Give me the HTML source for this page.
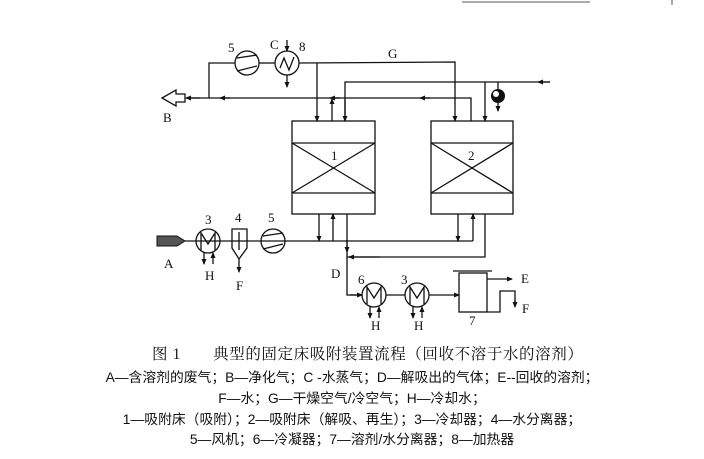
<!DOCTYPE html>
<html><head><meta charset="utf-8"><style>
body{margin:0;background:#fff;width:704px;height:459px;overflow:hidden}
svg{position:absolute;left:0;top:0}
text{font-family:"Liberation Serif","Noto Serif CJK SC",serif;fill:#111}
.c{font-family:"Liberation Sans","Noto Sans CJK SC",sans-serif;font-size:13.8px}
</style></head><body>
<svg width="704" height="459" viewBox="0 0 704 459">
<defs><marker id="a" markerWidth="6" markerHeight="6" refX="5" refY="3" orient="auto" markerUnits="userSpaceOnUse"><path d="M0,0.5 L6,3 L0,5.5z" fill="#111"/></marker></defs>
<line x1="462" y1="2" x2="590" y2="2" stroke="#555" stroke-width="1"/><line x1="672" y1="0" x2="672" y2="5" stroke="#555"/>
<g stroke="#111" stroke-width="1.3" fill="none">
<rect x="292" y="121" width="83" height="93"/><line x1="292" y1="143" x2="375" y2="143"/><line x1="292" y1="193" x2="375" y2="193"/><line x1="292" y1="143" x2="375" y2="193"/><line x1="375" y1="143" x2="292" y2="193"/>
<rect x="431" y="121" width="82" height="93"/><line x1="431" y1="143" x2="513" y2="143"/><line x1="431" y1="193" x2="513" y2="193"/><line x1="431" y1="143" x2="513" y2="193"/><line x1="513" y1="143" x2="431" y2="193"/>
<polyline points="209,98 209,63 235,63"/><circle cx="247" cy="63" r="12"/><path d="M237,58 L257,55 M237,71 L257,66"/>
<line x1="259" y1="63" x2="275" y2="63"/><circle cx="287" cy="63" r="12"/><path d="M280,68 L284,58 L289,70 L294,57"/>
<line x1="287" y1="40" x2="287" y2="51" marker-end="url(#a)"/><line x1="287" y1="75" x2="287" y2="87" marker-end="url(#a)"/>
<polyline points="299,63 455,62 455,121" marker-end="url(#a)"/>
<line x1="317" y1="63" x2="317" y2="121" marker-end="url(#a)"/>
<polyline points="471,121 471,98 190,98"/>
<line x1="340" y1="98" x2="330" y2="98" marker-end="url(#a)"/><line x1="430" y1="98" x2="420" y2="98" marker-end="url(#a)"/><line x1="230" y1="98" x2="220" y2="98" marker-end="url(#a)"/><line x1="200" y1="98" x2="186" y2="98" marker-end="url(#a)"/>
<line x1="332" y1="121" x2="332" y2="99" marker-end="url(#a)"/>
<path d="M185,94 L176,94 L176,90 L162,98 L176,106 L176,102 L185,102z"/>
<polyline points="345,121 345,82 550,82"/><line x1="345" y1="100" x2="345" y2="121" marker-end="url(#a)"/>
<line x1="485" y1="82" x2="485" y2="121" marker-end="url(#a)"/>
<line x1="550" y1="82" x2="538" y2="82" marker-end="url(#a)"/>
<line x1="498" y1="82" x2="498" y2="89"/><line x1="498" y1="103" x2="498" y2="111" marker-end="url(#a)"/>
<line x1="185" y1="241" x2="473" y2="241"/>
<line x1="319" y1="214" x2="319" y2="241" marker-end="url(#a)"/><line x1="333" y1="241" x2="333" y2="214" marker-end="url(#a)"/>
<polyline points="347,214 347,295 362,295" /><line x1="347" y1="240" x2="347" y2="252" marker-end="url(#a)"/><line x1="350" y1="295" x2="362" y2="295" marker-end="url(#a)"/>
<line x1="458" y1="214" x2="458" y2="241" marker-end="url(#a)"/><line x1="473" y1="241" x2="473" y2="214" marker-end="url(#a)"/>
<polyline points="485,214 485,257 347,257"/><line x1="380" y1="257" x2="349" y2="257" marker-end="url(#a)"/>
<circle cx="208" cy="241" r="12"/><path d="M201,250 L201,233 L208,244 L215,233 L215,250"/>
<line x1="204" y1="253" x2="204" y2="264" marker-end="url(#a)"/><line x1="213" y1="264" x2="213" y2="253" marker-end="url(#a)"/>
<path d="M232,229 L247,229 L247,248 L239,259 L232,248z"/><line x1="239" y1="232" x2="239" y2="250"/>
<line x1="239" y1="259" x2="239" y2="272" marker-end="url(#a)"/>
<circle cx="273" cy="241" r="12"/><path d="M263,236 L283,233 M263,249 L283,244"/>
<circle cx="374" cy="295" r="12"/><path d="M367,304 L367,287 L374,298 L381,287 L381,304"/>
<line x1="370" y1="307" x2="370" y2="318" marker-end="url(#a)"/><line x1="379" y1="318" x2="379" y2="307" marker-end="url(#a)"/>
<line x1="386" y1="295" x2="405" y2="295"/>
<circle cx="417" cy="295" r="12"/><path d="M410,304 L410,287 L417,298 L424,287 L424,304"/>
<line x1="413" y1="307" x2="413" y2="318" marker-end="url(#a)"/><line x1="422" y1="318" x2="422" y2="307" marker-end="url(#a)"/>
<line x1="429" y1="295" x2="459" y2="295" marker-end="url(#a)"/>
<rect x="459" y="273" width="28" height="39"/><line x1="453" y1="271" x2="492" y2="271"/>
<line x1="487" y1="279" x2="512" y2="279" marker-end="url(#a)"/>
<polyline points="487,312 500,312 500,291 515,291 515,306" /><line x1="515" y1="300" x2="515" y2="307" marker-end="url(#a)"/>
</g>
<path d="M157,236 L177,236 L185,241 L177,246 L157,246z" fill="#555" stroke="#111"/>
<circle cx="498" cy="96" r="7" fill="#111"/><circle cx="496" cy="94" r="3" fill="#fff"/>
<g font-size="13">
<text x="228" y="52">5</text><text x="270" y="49">C</text><text x="299" y="51">8</text><text x="388" y="58">G</text><text x="163" y="122">B</text>
<text x="331" y="160">1</text><text x="468" y="160">2</text>
<text x="205" y="224">3</text><text x="235" y="222">4</text><text x="268" y="222">5</text>
<text x="164" y="268">A</text><text x="205" y="280">H</text><text x="236" y="290">F</text>
<text x="331" y="278">D</text><text x="358" y="284">6</text><text x="401" y="284">3</text>
<text x="371" y="330">H</text><text x="414" y="330">H</text><text x="469" y="325">7</text>
<text x="521" y="283">E</text><text x="522" y="313">F</text>
</g>
<text x="152" y="359" font-size="15.5" letter-spacing="0.6">图 1　　典型的固定床吸附装置流程（回收不溶于水的溶剂）</text>
<text class="c" x="352" y="382" text-anchor="middle">A—含溶剂的废气；B—净化气；C -水蒸气；D—解吸出的气体；E--回收的溶剂；</text>
<text class="c" x="352" y="403" text-anchor="middle">F—水；G—干燥空气/冷空气；H—冷却水；</text>
<text class="c" x="352" y="424" text-anchor="middle">1—吸附床（吸附）；2—吸附床（解吸、再生）；3—冷却器；4—水分离器；</text>
<text class="c" x="352" y="444" text-anchor="middle">5—风机；6—冷凝器；7—溶剂/水分离器；8—加热器</text>
</svg>
</body></html>
